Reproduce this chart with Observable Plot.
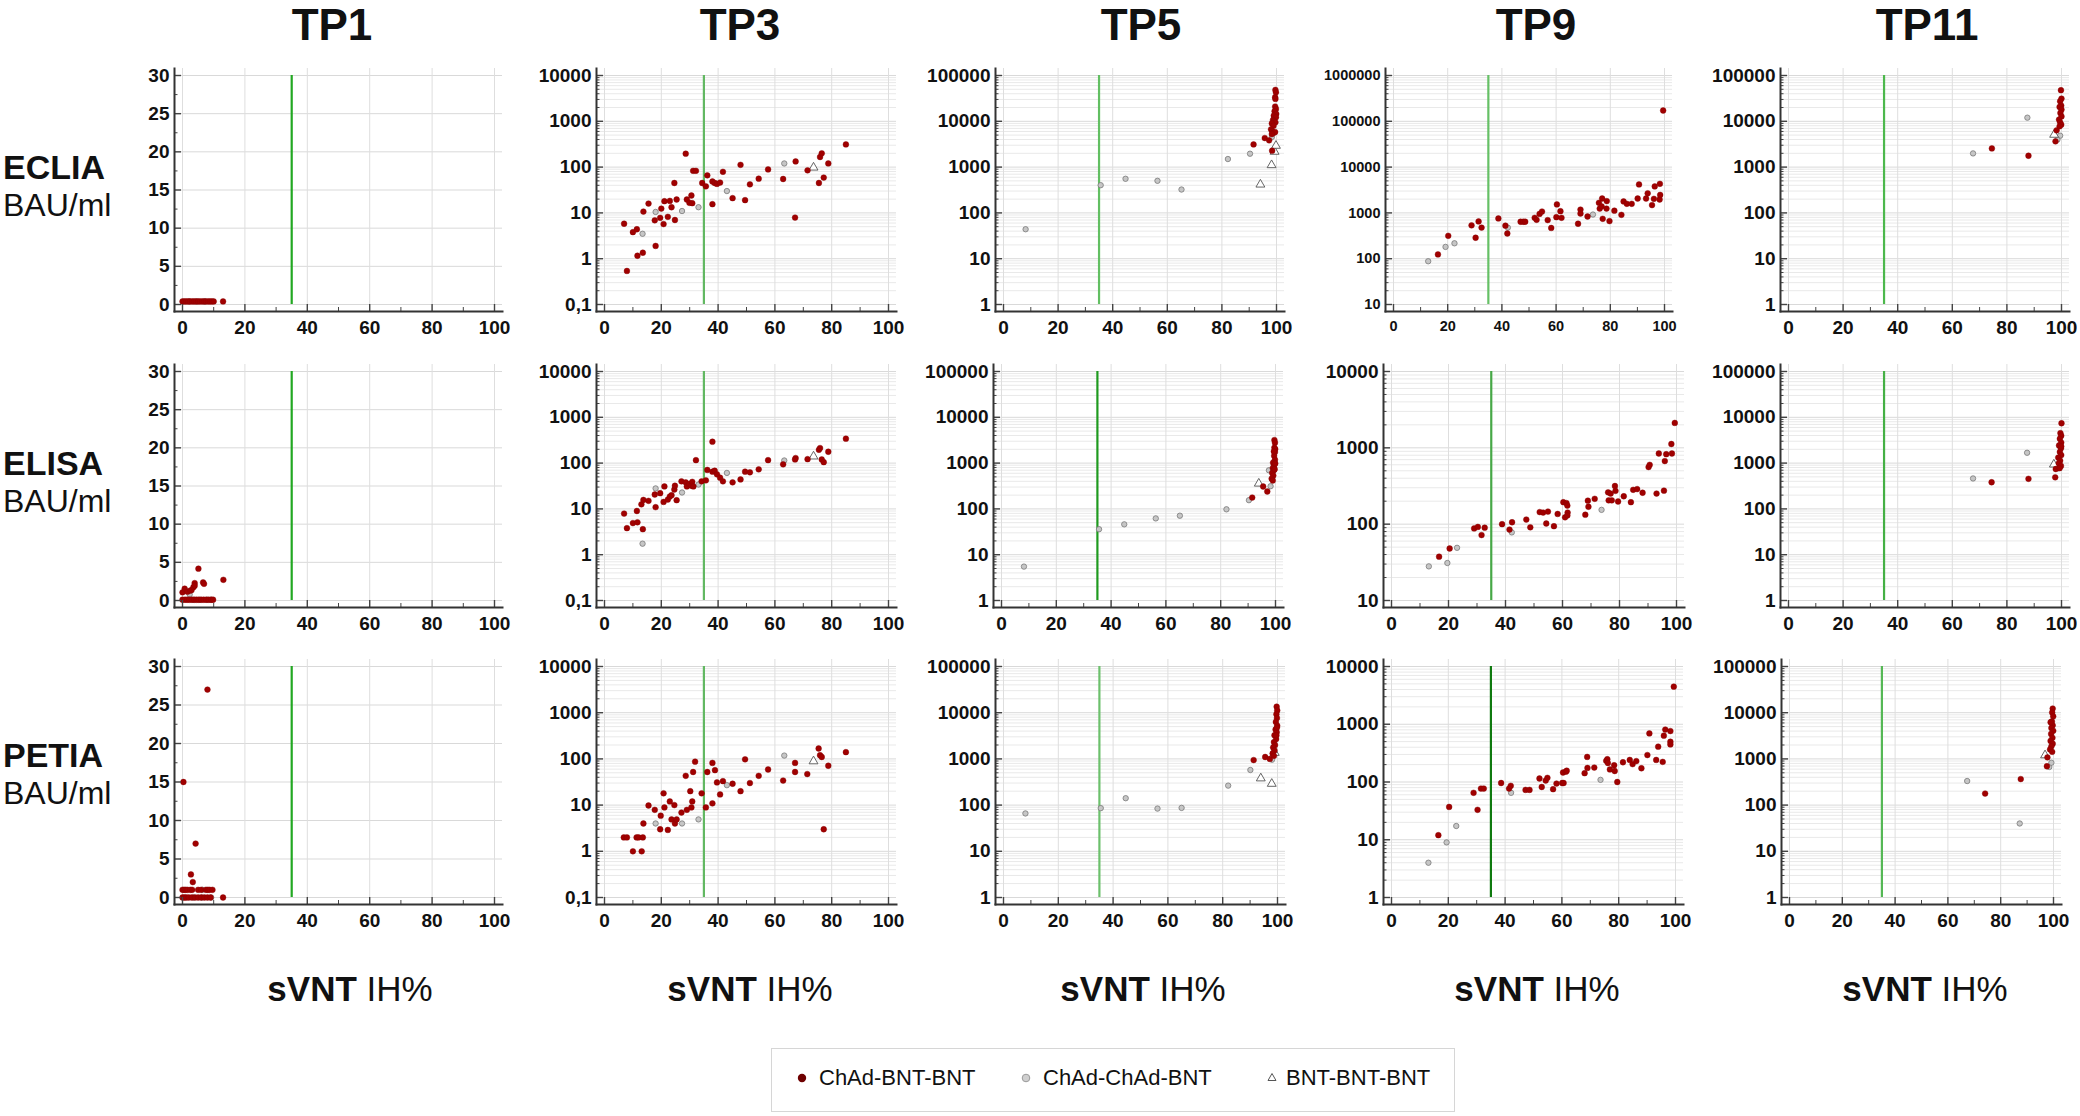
<!DOCTYPE html>
<html><head><meta charset="utf-8">
<script src="https://cdn.jsdelivr.net/npm/d3@7"></script>
<script src="https://cdn.jsdelivr.net/npm/@observablehq/plot@0.6"></script>
<style>
body{margin:0;background:#fff;}
#root{position:relative;width:2080px;height:1116px;overflow:hidden;font-family:"Liberation Sans",Arial,sans-serif;color:#111;}
.abs{position:absolute;white-space:nowrap;line-height:1;}
.pan{position:absolute;}
</style></head><body><div id="root"></div><script>
// ---------- labels ----------
const timepoints = ["TP1","TP3","TP5","TP9","TP11"];
const assays = ["ECLIA","ELISA","PETIA"];
const unitLabel = "BAU/ml";
const xTitleBold = "sVNT";
const xTitleRest = "IH%";
const groupNames = ["ChAd-BNT-BNT","ChAd-ChAd-BNT","BNT-BNT-BNT"];
const cutoff = [35];
const xTicks = [0,20,40,60,80,100];
const xMinorTicks = [10,30,50,70,90];
const linTicks = [0,5,10,15,20,25,30];
const linMinorTicks = [2.5,7.5,12.5,17.5,22.5,27.5];
const logTicksTP3 = [0.1,1,10,100,1000,10000];
const logTicks5 = [1,10,100,1000,10000,100000];
const logTicksTP9a = [10,100,1000,10000,100000,1000000];
const logTicksTP9b = [10,100,1000,10000];
const logTicksTP9c = [1,10,100,1000,10000];

// ---------- data: [sVNT IH%, BAU/ml]; A = ChAd-BNT-BNT, B = ChAd-ChAd-BNT, C = BNT-BNT-BNT ----------
const TP1_ECLIA_A = [[0,0.4],[0.6,0.4],[1.2,0.4],[1.8,0.4],[2.4,0.4],[3.1,0.4],[3.7,0.4],[4.3,0.4],[5,0.4],[5.6,0.4],[6.3,0.4],[6.9,0.4],[7.5,0.4],[8.2,0.4],[8.8,0.4],[9.4,0.4],[10,0.4],[13,0.4]];
const TP1_ECLIA_B = [[2.2,0.4],[4.6,0.4],[7.2,0.4]];
const TP1_ECLIA_C = [];
const TP1_ELISA_A = [[0,1.07],[0.7,1.55],[1.6,1.16],[2.5,1.3],[2.9,1.36],[3.5,1.75],[3.9,2.28],[3.9,1.94],[5.1,4.17],[6.6,2.37],[6.9,2.18],[13.1,2.71],[0,0.1],[0.8,0.1],[1.5,0.1],[2.2,0.1],[3,0.1],[3.8,0.1],[4.5,0.1],[5.2,0.1],[6,0.1],[6.8,0.1],[7.6,0.1],[8.4,0.1],[9.2,0.1],[9.8,0.1]];
const TP1_ELISA_B = [[2.3,0.8],[3.4,0.1],[5.6,0.1],[7.9,0.1],[9.1,0.1]];
const TP1_ELISA_C = [];
const TP1_PETIA_A = [[0.3,15],[8,27],[4.2,7],[2.7,3],[3.3,2],[0,1],[0.5,1],[1,1],[1.6,1],[2.5,1],[3.1,1],[5,1],[6,1],[7.5,1],[8.1,1],[8.7,1],[9.6,1],[0,0],[0.6,0],[1.2,0],[2,0],[3,0],[4,0],[5,0],[6,0],[7,0],[8,0],[9,0],[13,0]];
const TP1_PETIA_B = [[3.5,0],[6.4,1],[6.2,0],[9.2,0]];
const TP1_PETIA_C = [];

const TP3_ECLIA_A = [[6.9,5.8],[7.9,0.54],[10,3.8],[11.4,4.4],[11.6,1.16],[13.5,1.35],[13.7,10.7],[15.5,16],[17.7,6.9],[18,1.9],[19.6,7.8],[20,12.4],[20.8,5.7],[21.1,18],[22.3,8.2],[23,18.3],[23.6,13.3],[24.6,45],[24.8,7],[25.4,19.6],[28.6,196],[29,19.6],[29.9,16.6],[30.6,24],[30.9,16.3],[31.2,83],[32.2,83],[34.4,45],[35.7,38],[36.2,66],[38,15.5],[38,48.5],[38.8,45],[39.6,43],[40.7,46],[41.7,79],[45.1,21],[47.9,112],[49.5,19],[51.2,42],[54.3,56],[57.6,89],[62.9,55],[67.3,133],[67.1,7.9],[71.5,85],[75.5,45],[75.9,166],[76.5,200],[77.2,59],[78.8,120],[85,313]];
const TP3_ECLIA_B = [[13.4,3.5],[18,10.5],[27.3,11],[33.1,13.3],[43.1,30],[63.3,120]];
const TP3_ECLIA_C = [[73.6,98]];
const TP3_ELISA_A = [[6.9,7.9],[7.9,3.8],[10,4.9],[11.4,9],[11.6,5.1],[13,12.6],[13.5,3.6],[13.7,15.7],[15.5,15],[17.7,20.6],[18,10.9],[19.6,22],[20.8,14.2],[21.1,31],[22.3,16],[23,18.6],[23.6,19.9],[24.6,26.5],[24.8,32],[25.4,15.5],[27.1,40],[28.6,38],[29,31],[29.9,35],[30.6,32],[30.9,39],[31.3,31],[32.2,116],[34.2,40],[35.7,42],[36.2,71],[38,293],[38,65],[38.8,68],[39.6,57],[40.7,48],[41.7,40],[45.1,38],[47.9,44],[49.5,65],[51.2,63],[54.3,73],[57.6,116],[62.9,94],[67.3,129],[67.1,120],[71.5,122],[75.5,195],[75.9,213],[76.5,120],[77.2,105],[78.8,177],[85,341]];
const TP3_ELISA_B = [[13.4,1.74],[18,28],[27.3,22.8],[33.1,34],[43.1,61],[63.3,114]];
const TP3_ELISA_C = [[73.6,140]];
const TP3_PETIA_A = [[6.8,2],[7.9,2],[10,1],[11.3,2],[12,2],[13.1,1],[13.5,2],[13.7,4],[15.5,9.8],[17.7,7.9],[19.6,3],[19.8,5.9],[20.8,18],[21.1,8.9],[22.3,2.9],[23,12],[23.6,4.9],[24.6,10],[24.8,4],[25.4,4.9],[27.1,6.9],[28.6,43],[29,7.9],[30.2,20],[30.6,8.9],[30.9,12],[31.2,52],[31.9,87],[34.2,18],[35.7,8.9],[36.2,52],[38,82],[38,10.9],[38.9,57],[39.6,31],[40.7,17],[41.7,33],[45.1,29],[47.9,20],[49.5,98],[51.2,30],[54.3,43],[57.6,59],[62.9,34],[67.1,82],[67.1,52],[71.4,47],[75.4,168],[75.9,120],[76.5,110],[77.2,3],[78.8,71],[85,140]];
const TP3_PETIA_B = [[18,4],[27.3,4],[33.1,4.9],[43.1,27],[63.3,118]];
const TP3_PETIA_C = [[73.6,89]];

const TP5_ECLIA_A = [[91.6,3130],[95.7,4310],[97.3,3840],[98.4,2280],[99.6,48500],[99.8,43000],[99.5,33500],[99.6,30800],[99.5,21000],[99.8,18600],[99.3,16600],[99.9,14500],[99,13300],[99.8,12200],[98.7,10700],[99.1,10000],[99.6,9500],[98.3,9000],[98.9,8000],[98,6680],[98.5,6040],[99,5650],[99.5,5830],[98.3,5280]];
const TP5_ECLIA_B = [[8.1,44],[35.6,403],[44.7,556],[56.4,502],[65.2,324],[82.2,1500],[90.3,1960],[98.3,4540]];
const TP5_ECLIA_C = [[94.1,417],[98.2,1107],[99.3,2170],[99.8,2930]];
const TP5_ELISA_A = [[91.5,177],[95.5,308],[97,240],[99.6,3190],[99.8,2790],[99.6,2180],[99.8,1740],[99.5,1440],[99.8,1190],[99.1,1020],[99.5,890],[99,780],[99.4,697],[98.8,610],[99.2,533],[98.6,458],[99,417],[99.9,2020],[99.9,980],[99.7,738],[99.4,1800]];
const TP5_ELISA_B = [[8.2,5.5],[35.6,36],[44.8,46],[56.3,62],[65.1,71],[82.1,98],[90.3,155],[98.2,313],[97.6,697]];
const TP5_ELISA_C = [[93.9,358]];
const TP5_PETIA_A = [[91.3,944],[95.5,1100],[97.2,1000],[99.7,13500],[99.9,11200],[99.6,9270],[99.8,7660],[99.4,6330],[99.9,5230],[99.3,4330],[99.7,3790],[98.9,3250],[99.5,2690],[98.7,2310],[99.1,1990],[98.4,1770],[98.9,1520],[98.2,1310],[98.7,1165],[99.6,3250],[99.8,4760]];
const TP5_PETIA_B = [[8,66],[35.5,86],[44.6,141],[56.2,84],[65,87],[82,264],[90.1,575],[98,962]];
const TP5_PETIA_C = [[93.9,380],[97.9,290],[99,1355]];

const TP9_ECLIA_A = [[16.4,124],[20.2,316],[28.8,535],[30.3,287],[31.4,652],[32.5,477],[38.7,756],[41.3,526],[42,355],[46.9,641],[47.9,641],[48.6,641],[52.1,782],[52.8,707],[53.9,952],[54.8,1070],[56.9,697],[58.2,469],[60.1,807],[60.3,1530],[61.6,1090],[62,782],[68.1,580],[69,1180],[69,968],[71.6,834],[75.8,1660],[76.1,1240],[76.8,1390],[77,2060],[77.2,744],[78.6,1240],[78.7,1810],[79.7,663],[81.5,1120],[84.1,906],[84.9,1780],[86.1,1580],[87.9,1580],[90.1,2060],[90.6,4180],[93.2,2060],[93.8,2680],[95.4,1480],[96.1,2030],[96.4,3790],[98.2,1960],[98.3,4320],[98.4,2470],[99.5,172000]];
const TP9_ECLIA_B = [[12.8,88],[19.2,181],[22.5,217],[42.2,477],[73.6,920]];
const TP9_ECLIA_C = [];
const TP9_ELISA_A = [[16.7,37.5],[20.4,48],[29,88],[30.3,92],[31.6,72],[32.7,90],[38.8,100],[41.4,85],[42.3,106],[47.3,115],[48.7,91],[52,144],[53.2,142],[54.3,102],[54.9,146],[57,94],[58.3,136],[60.3,194],[60.9,123],[61.4,189],[61.7,175],[61.8,142],[61.7,130],[68,133],[68.9,203],[69.1,169],[71.3,215],[76,261],[76.2,205],[76.9,252],[77.3,205],[78.4,316],[78.6,273],[79.5,198],[81.5,232],[84,194],[84.8,282],[86.2,288],[88.1,258],[90.2,560],[90.6,599],[93,252],[93.8,843],[95.6,275],[95.9,671],[96.4,825],[98.2,1122],[98.4,843],[99.4,2120]];
const TP9_ELISA_B = [[13.1,28],[19.6,31],[23,49],[42.2,78],[73.7,154]];
const TP9_ELISA_C = [];
const TP9_PETIA_A = [[16.5,12],[20.3,37],[28.9,65],[30.3,33],[31.5,77],[32.5,77],[38.6,96],[41.4,77],[42,86],[47.2,73],[48.6,73],[52.1,115],[52.9,82],[54.3,106],[54.9,118],[56.9,75],[58.1,94],[60.1,96],[60.6,96],[60.4,146],[61.4,151],[61.7,157],[68,142],[68.9,272],[69,175],[71.4,178],[75.6,233],[76,248],[76.2,213],[76.9,165],[78.4,195],[78.6,155],[79.5,100],[81.5,220],[83.9,241],[84.9,204],[86.2,230],[88,173],[90.1,293],[90.8,695],[93.2,241],[93.9,409],[95.5,223],[95.9,635],[96.4,809],[98.2,762],[98.2,498],[98.2,448],[99.4,4480]];
const TP9_PETIA_B = [[13,4],[19.4,9],[22.8,17.3],[42.1,65],[73.6,109]];
const TP9_PETIA_C = [];

const TP11_ECLIA_A = [[74.5,2560],[87.9,1770],[97.8,3650],[98.2,6350],[99.8,47700],[100,31300],[99.5,27400],[99.9,22000],[99.3,20600],[100,18000],[99.6,15200],[100,12800],[99.1,10900],[99.5,9500],[99.9,8450],[99.3,7780]];
const TP11_ECLIA_B = [[67.6,1990],[87.5,12000],[99.5,4850],[98.5,3970]];
const TP11_ECLIA_C = [[97.3,5100]];
const TP11_ELISA_A = [[74.4,382],[87.9,454],[97.7,490],[97.9,743],[100,7410],[99.6,4520],[99.9,3960],[99.4,3400],[99.9,2810],[99.1,2420],[99.8,2110],[99.4,1750],[99.9,1500],[98.8,1320],[99.5,1130],[99,990],[99.8,865],[99.3,773],[99.9,2320]];
const TP11_ELISA_B = [[67.6,462],[87.4,1680],[98.9,773]];
const TP11_ELISA_C = [[97.2,933]];
const TP11_PETIA_A = [[74.1,178],[87.6,366],[97.5,693],[97.7,1080],[99.7,12300],[99.5,10100],[99.9,8330],[99.4,6480],[99.7,5330],[99.2,4660],[99.9,4060],[99.1,3480],[99.6,2860],[98.9,2450],[99.7,2140],[99.2,1870],[98.7,1600],[99.5,1420],[98.9,6220]];
const TP11_PETIA_B = [[67.3,332],[87.2,40],[98.4,668],[99.2,826]];
const TP11_PETIA_C = [[96.8,1200]];

const panelData = {
  TP1: [[TP1_ECLIA_A,TP1_ECLIA_B,TP1_ECLIA_C],[TP1_ELISA_A,TP1_ELISA_B,TP1_ELISA_C],[TP1_PETIA_A,TP1_PETIA_B,TP1_PETIA_C]],
  TP3: [[TP3_ECLIA_A,TP3_ECLIA_B,TP3_ECLIA_C],[TP3_ELISA_A,TP3_ELISA_B,TP3_ELISA_C],[TP3_PETIA_A,TP3_PETIA_B,TP3_PETIA_C]],
  TP5: [[TP5_ECLIA_A,TP5_ECLIA_B,TP5_ECLIA_C],[TP5_ELISA_A,TP5_ELISA_B,TP5_ELISA_C],[TP5_PETIA_A,TP5_PETIA_B,TP5_PETIA_C]],
  TP9: [[TP9_ECLIA_A,TP9_ECLIA_B,TP9_ECLIA_C],[TP9_ELISA_A,TP9_ELISA_B,TP9_ELISA_C],[TP9_PETIA_A,TP9_PETIA_B,TP9_PETIA_C]],
  TP11: [[TP11_ECLIA_A,TP11_ECLIA_B,TP11_ECLIA_C],[TP11_ELISA_A,TP11_ELISA_B,TP11_ELISA_C],[TP11_PETIA_A,TP11_PETIA_B,TP11_PETIA_C]]
};
const yTickSets = {
  TP1: [linTicks, linTicks, linTicks],
  TP3: [logTicksTP3, logTicksTP3, logTicksTP3],
  TP5: [logTicks5, logTicks5, logTicks5],
  TP9: [logTicksTP9a, logTicksTP9b, logTicksTP9c],
  TP11: [logTicks5, logTicks5, logTicks5]
};

// ---------- layout (pixels) ----------
const layoutX = {
  TP1: [[182,494],[182,494],[182,494]],
  TP3: [[604,888],[604,888],[604,888]],
  TP5: [[1003,1276],[1001,1275],[1003,1277]],
  TP9: [[1393,1664],[1391,1676],[1391,1675]],
  TP11: [[1788,2061],[1788,2061],[1789,2053]]
};
const layoutY = [[75,304],[371,600],[666,897]];
const rowShift = [0,296,588];
const titleX = [332,740,1141,1536,1927];
const xTitleCx = [350,750,1143,1537,1925];
const greens = {
  TP1: ["#22a822","#22a822","#22a822"],
  TP3: ["#62b862","#62b862","#62b862"],
  TP5: ["#62bf62","#1f9a1f","#6cc06c"],
  TP9: ["#66c066","#47a847","#0f7a0f"],
  TP11: ["#4cb84c","#44b044","#55b855"]
};

const root = document.getElementById("root");
function addText(html, x, baseline, size, weight, anchor) {
  const d = document.createElement("div");
  d.className = "abs";
  d.innerHTML = html;
  d.style.fontSize = size + "px";
  d.style.fontWeight = weight || "normal";
  d.style.top = (baseline - 0.8465 * size) + "px";
  d.style.left = x + "px";
  if (anchor === "middle") d.style.transform = "translateX(-50%)";
  root.appendChild(d);
  return d;
}

const fmt = v => v < 1 ? String(v).replace(".", ",") : String(v);

timepoints.forEach((tp, ti) => {
  addText(tp, titleX[ti], 40, 44, "bold", "middle");
  addText(`<b>${xTitleBold}</b> ${xTitleRest}`, xTitleCx[ti], 1001, 35, "normal", "middle");
  assays.forEach((assay, ri) => {
    const [x0, x100] = layoutX[tp][ri];
    const [yT, yB] = layoutY[ri];
    const fl = x0 - 8, fr = x100 + 8, ft = yT - 7, fb = yB + 7;
    const ML = 100, MR = 8, MT = 4, MB = 44;
    const W = ML + (fr - fl) + MR, H = MT + (fb - ft) + MB;
    const major = yTickSets[tp][ri];
    const isLog = tp !== "TP1";
    const dom = [major[0], major[major.length - 1]];
    const minor = isLog ? d3.scaleLog().domain(dom).ticks().filter(v => !major.some(m => Math.abs(m - v) < 1e-9)) : linMinorTicks;
    const fs = (tp === "TP9" && ri === 0) ? 14.5 : 19;
    const [A, B, C] = panelData[tp][ri];
    const marks = [
      isLog ? Plot.gridY(minor, {stroke: "#e9e9e9", strokeOpacity: 1, strokeWidth: 1}) : null,
      Plot.gridY(major, {stroke: "#d9d9d9", strokeOpacity: 1, strokeWidth: 1}),
      Plot.gridX(xTicks, {stroke: "#dedede", strokeOpacity: 1, strokeWidth: 1}),
      Plot.ruleX(cutoff, {y1: dom[0], y2: dom[1], stroke: greens[tp][ri], strokeWidth: 2.2}),
      Plot.dot(B, {x: d => d[0], y: d => d[1], r: 2.7, fill: "#c6c6c6", stroke: "#7a7a7a", strokeWidth: 0.8}),
      Plot.dot(C, {x: d => d[0], y: d => d[1], symbol: "triangle", r: 3.3, fill: "white", stroke: "#555", strokeWidth: 0.9}),
      Plot.dot(A, {x: d => d[0], y: d => d[1], r: 2.9, fill: "#a00000", stroke: "#850000", strokeWidth: 0.4}),
      Plot.axisY(minor, {tickSize: -3.5, tickFormat: () => "", stroke: "#444", strokeWidth: 1}),
      Plot.axisY(major, {tickSize: -7, tickPadding: 12, tickFormat: fmt, fontSize: fs, fontWeight: "bold", stroke: "#444", strokeWidth: 1.4}),
      Plot.axisX(xMinorTicks, {tickSize: -4, tickFormat: () => "", stroke: "#444", strokeWidth: 1}),
      Plot.axisX(xTicks, {tickSize: -7, tickPadding: 16, fontSize: fs, fontWeight: "bold", stroke: "#444", strokeWidth: 1.4}),
      Plot.frame({anchor: "left", stroke: "#333", strokeWidth: 2}),
      Plot.frame({anchor: "bottom", stroke: "#333", strokeWidth: 2})
    ].filter(Boolean);
    const svg = Plot.plot({
      width: W, height: H,
      marginLeft: ML, marginRight: MR, marginTop: MT, marginBottom: MB,
      style: {background: "transparent", overflow: "visible", color: "#111", fontFamily: "Liberation Sans, Arial, sans-serif"},
      x: {domain: [0, 100], insetLeft: 8, insetRight: 8, label: null},
      y: {type: isLog ? "log" : "linear", domain: dom, insetTop: 7, insetBottom: 7, label: null},
      marks
    });
    const wrap = document.createElement("div");
    wrap.className = "pan";
    wrap.style.left = (fl - ML) + "px";
    wrap.style.top = (ft - MT) + "px";
    wrap.appendChild(svg);
    root.appendChild(wrap);
    if (ti === 0) {
      addText(assay, 3, 179 + rowShift[ri], 34, "bold");
      addText(unitLabel, 3, 216 + rowShift[ri], 32, "normal");
    }
  });
});

// ---------- legend ----------
const leg = document.createElement("div");
leg.style.cssText = "position:absolute;left:771px;top:1048px;width:684px;height:64px;box-sizing:border-box;border:1.5px solid #d6d6d6;background:#fff;";
root.appendChild(leg);
const legendSymbols = [
  `<circle cx="10" cy="10" r="4.2" fill="#6e0000"/>`,
  `<circle cx="10" cy="10" r="3.8" fill="#cfcfcf" stroke="#9a9a9a" stroke-width="1"/>`,
  `<path d="M10,5.5 L14,12.5 L6,12.5 Z" fill="#fff" stroke="#555" stroke-width="1"/>`
];
const legSymX = [20, 244, 490];
const legTextX = [47, 271, 514];
groupNames.forEach((g, i) => {
  const s = document.createElement("div");
  s.style.cssText = `position:absolute;left:${legSymX[i]}px;top:19px;width:20px;height:20px;`;
  s.innerHTML = `<svg width="20" height="20">${legendSymbols[i]}</svg>`;
  leg.appendChild(s);
  const t = document.createElement("div");
  t.className = "abs";
  t.textContent = g;
  t.style.fontSize = "22px";
  t.style.left = legTextX[i] + "px";
  t.style.top = (37 - 0.8465 * 22) + "px";
  leg.appendChild(t);
});
</script></body></html>
